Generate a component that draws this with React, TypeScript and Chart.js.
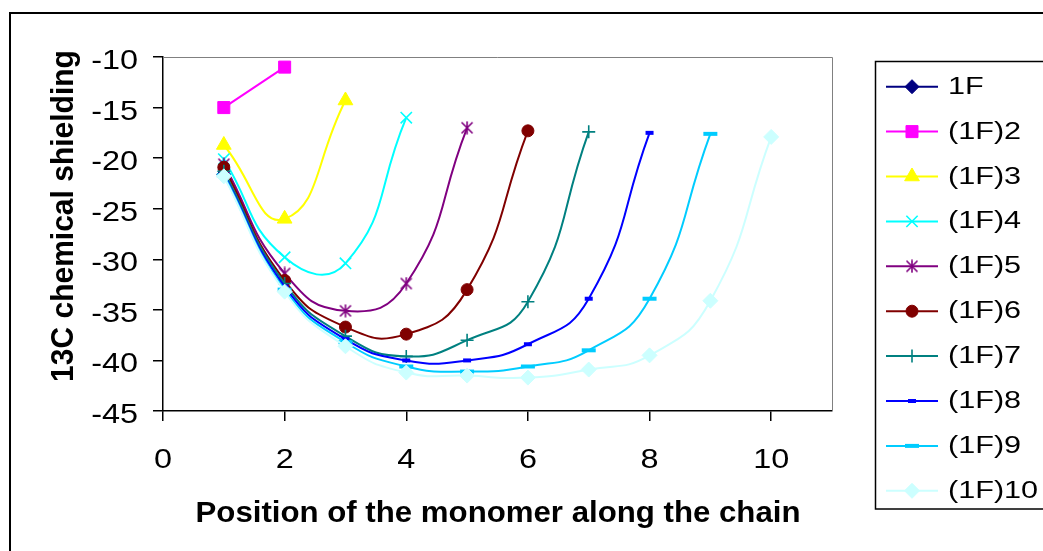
import React, { useEffect, useRef } from "react";
import { Chart, registerables } from "chart.js";
import { drawPoint } from "chart.js/helpers";

Chart.register(...registerables);

// ---- data ----
const seriesNames = ["1F", "(1F)2", "(1F)3", "(1F)4", "(1F)5", "(1F)6", "(1F)7", "(1F)8", "(1F)9", "(1F)10"];
const s1 = [-21.6];
const s2 = [-15.0, -11.0];
const s3 = [-18.7, -26.0, -14.3];
const s4 = [-20.1, -29.8, -30.4, -16.0];
const s5 = [-20.6, -31.4, -35.1, -32.4, -17.0];
const s6 = [-20.9, -32.1, -36.7, -37.4, -33.0, -17.3];
const s7 = [-21.3, -32.4, -37.6, -39.6, -38.0, -34.2, -17.4];
const s8 = [-21.6, -32.7, -37.9, -40.0, -40.0, -38.4, -33.9, -17.5];
const s9 = [-21.7, -33.0, -38.2, -40.6, -41.1, -40.6, -39.0, -33.9, -17.6];
const s10 = [-21.8, -33.2, -38.6, -41.2, -41.5, -41.7, -40.9, -39.5, -34.1, -17.9];
const seriesValues = [s1, s2, s3, s4, s5, s6, s7, s8, s9, s10];
const xTicks = [0, 2, 4, 6, 8, 10];
const yTicks = [-45, -40, -35, -30, -25, -20, -15, -10];
const xTitle = "Position of the monomer along the chain";
const yTitle = "13C chemical shielding";

// ---- styles ----
const colors = ["#000080", "#FF00FF", "#FFFF00", "#00FFFF", "#800080", "#800000", "#008080", "#0000FF", "#00CCFF", "#CCFFFF"];
const FONT = "'Liberation Sans', Arial, sans-serif";

function makeAsterisk(color: string): HTMLCanvasElement {
  const c = document.createElement("canvas");
  c.width = 14;
  c.height = 14;
  const g = c.getContext("2d")!;
  g.strokeStyle = color;
  g.lineWidth = 1.6;
  g.beginPath();
  g.moveTo(7, 0.5);
  g.lineTo(7, 13.5);
  g.moveTo(1.5, 1.5);
  g.lineTo(12.5, 12.5);
  g.moveTo(12.5, 1.5);
  g.lineTo(1.5, 12.5);
  g.stroke();
  return c;
}

function markerStyles(): any[] {
  return [
    { pointStyle: "rectRot", radius: 7, borderWidth: 1 },
    { pointStyle: "rect", radius: 8.5, borderWidth: 1 },
    { pointStyle: "triangle", radius: 8.5, borderWidth: 1 },
    { pointStyle: "crossRot", radius: 8, borderWidth: 1.6 },
    { pointStyle: makeAsterisk(colors[4]), radius: 7, borderWidth: 1 },
    { pointStyle: "circle", radius: 6, borderWidth: 1 },
    { pointStyle: "cross", radius: 6.5, borderWidth: 1.6 },
    { pointStyle: "line", radius: 4, borderWidth: 4 },
    { pointStyle: "line", radius: 7, borderWidth: 4 },
    { pointStyle: "rectRot", radius: 7.5, borderWidth: 1 },
  ];
}

function stretchedText(ctx: CanvasRenderingContext2D, text: string, x: number, y: number, align: CanvasTextAlign, sx: number, rot = 0) {
  ctx.save();
  ctx.translate(x, y);
  ctx.scale(sx, 1);
  if (rot) ctx.rotate(rot);
  ctx.textAlign = align;
  ctx.textBaseline = "alphabetic";
  ctx.fillText(text, 0, 0);
  ctx.restore();
}

export default function App() {
  const ref = useRef<HTMLCanvasElement | null>(null);

  useEffect(() => {
    const canvas = ref.current;
    if (!canvas) return;
    const markers = markerStyles();

    const datasets = seriesValues.map((vals, i) => ({
      label: seriesNames[i],
      data: vals.map((v, k) => ({ x: k + 1, y: v })),
      borderColor: colors[i],
      backgroundColor: colors[i],
      borderWidth: 2,
      tension: 0.5,
      pointStyle: markers[i].pointStyle,
      pointRadius: markers[i].radius,
      pointBorderWidth: markers[i].borderWidth,
      pointBackgroundColor: colors[i],
      pointBorderColor: colors[i],
      order: 10 - i,
    }));

    const decor = {
      id: "decor",
      beforeDatasetsDraw(chart: any) {
        const { ctx, chartArea } = chart;
        ctx.save();
        ctx.strokeStyle = "#808080";
        ctx.lineWidth = 1;
        ctx.beginPath();
        ctx.moveTo(chartArea.left, chartArea.top + 0.5);
        ctx.lineTo(chartArea.right + 0.5, chartArea.top + 0.5);
        ctx.lineTo(chartArea.right + 0.5, chartArea.bottom);
        ctx.stroke();
        ctx.restore();
      },
      afterDraw(chart: any) {
        const { ctx } = chart;
        const xs = chart.scales.x;
        const ys = chart.scales.y;
        ctx.save();
        // outer frame
        ctx.strokeStyle = "#000";
        ctx.lineWidth = 2;
        ctx.strokeRect(10, 13, 1200, 700);

        // tick labels
        ctx.fillStyle = "#000";
        ctx.font = `27px ${FONT}`;
        xTicks.forEach((v) => {
          stretchedText(ctx, String(v), xs.getPixelForValue(v), 468, "center", 1.2);
        });
        yTicks.forEach((v) => {
          stretchedText(ctx, String(v), 138, ys.getPixelForValue(v) + 12, "right", 1.2);
        });

        // titles
        ctx.font = `bold 30px ${FONT}`;
        stretchedText(ctx, xTitle, 498, 522, "center", 1.04);
        stretchedText(ctx, yTitle, 73, 216, "center", 1.04, -Math.PI / 2);

        // legend
        ctx.strokeStyle = "#000";
        ctx.lineWidth = 1.5;
        ctx.strokeRect(875.5, 61.5, 400, 447.5);
        ctx.font = `23px ${FONT}`;
        seriesNames.forEach((name, i) => {
          const cy = 86.7 + i * 44.9;
          ctx.strokeStyle = colors[i];
          ctx.fillStyle = colors[i];
          ctx.lineWidth = 2;
          ctx.beginPath();
          ctx.moveTo(886, cy);
          ctx.lineTo(938, cy);
          ctx.stroke();
          const m = markers[i];
          ctx.lineWidth = m.borderWidth;
          drawPoint(ctx, { pointStyle: m.pointStyle, radius: m.radius, borderWidth: m.borderWidth, rotation: 0 } as any, 912, cy);
          ctx.fillStyle = "#000";
          stretchedText(ctx, name, 948, cy + 7, "left", 1.33);
        });
        ctx.restore();
      },
    };

    const chart = new Chart(canvas, {
      type: "line",
      data: { datasets: datasets as any },
      plugins: [decor],
      options: {
        animation: false,
        responsive: false,
        maintainAspectRatio: false,
        layout: { padding: { left: 0, top: 57, right: 211, bottom: 0 } },
        plugins: { legend: { display: false }, tooltip: { enabled: false } },
        elements: { line: { capBezierPoints: false } },
        scales: {
          x: {
            type: "linear",
            min: 0,
            max: 11,
            afterBuildTicks: (s: any) => {
              s.ticks = xTicks.map((v) => ({ value: v }));
            },
            afterFit: (s: any) => {
              s.height = 140;
            },
            ticks: { display: false },
            grid: { drawOnChartArea: false, drawTicks: true, tickLength: 10, color: "#000", lineWidth: 1.5 },
            border: { color: "#000", width: 1.5 },
          },
          y: {
            type: "linear",
            min: -45,
            max: -10,
            afterBuildTicks: (s: any) => {
              s.ticks = yTicks.map((v) => ({ value: v }));
            },
            afterFit: (s: any) => {
              s.width = 163;
            },
            ticks: { display: false },
            grid: { drawOnChartArea: false, drawTicks: true, tickLength: 10, color: "#000", lineWidth: 1.5 },
            border: { color: "#000", width: 1.5 },
          },
        },
      } as any,
    });
    return () => chart.destroy();
  }, []);

  return (
    <div style={{ position: "absolute", left: 0, top: 0, width: 1043, height: 551, background: "#fff" }}>
      <canvas ref={ref} width={1043} height={551} style={{ display: "block" }} />
    </div>
  );
}
